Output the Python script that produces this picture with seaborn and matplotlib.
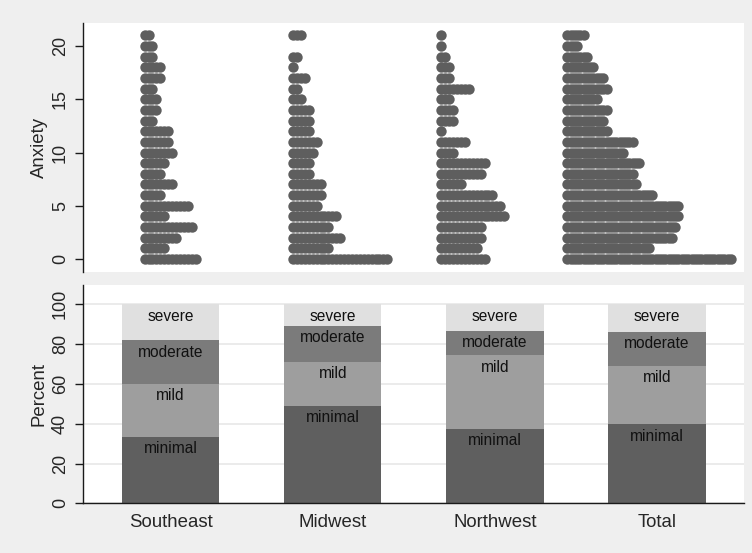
import numpy as np
import pandas as pd
import matplotlib
matplotlib.use("Agg")
import matplotlib.pyplot as plt
import seaborn as sns

# ---- data -------------------------------------------------------------
regions = ["Southeast", "Midwest", "Northwest", "Total"]
scores = list(range(22))  # anxiety score 0..21

# number of respondents at each anxiety score (index = score)
southeast = [14, 6, 9, 13, 6, 12, 5, 8, 5, 6, 8, 7, 7, 3, 4, 4, 3, 5, 5, 3, 3, 2]
midwest = [25, 10, 13, 10, 12, 7, 8, 8, 5, 5, 6, 7, 5, 5, 5, 3, 2, 4, 1, 2, 0, 3]
northwest = [12, 10, 11, 11, 17, 16, 14, 6, 11, 12, 4, 7, 1, 4, 4, 3, 8, 3, 3, 2, 1, 1]

# severity category shares (percent) per region
levels = ["minimal", "mild", "moderate", "severe"]
pct_minimal = [33.3, 48.9, 37.4, 39.7]
pct_mild = [26.9, 22.1, 37.0, 29.3]
pct_moderate = [21.8, 18.1, 12.4, 17.1]
pct_severe = [18.0, 10.9, 13.2, 13.9]

# ---- styling ----------------------------------------------------------
sns.set_theme(style="white")
plt.rcParams["font.family"] = ["Liberation Sans", "DejaVu Sans"]

BG = "#efefef"
DOT = "#5e5e5e"
seg_colors = {"minimal": "#5f5f5f", "mild": "#9e9e9e",
              "moderate": "#7b7b7b", "severe": "#e0e0e0"}

fig = plt.figure(figsize=(7.52, 5.53), dpi=100, facecolor=BG)
W, H = 752, 553
ax1 = fig.add_axes([83 / W, 1 - 272 / H, 661 / W, 249.3 / H])
ax2 = fig.add_axes([83 / W, 1 - 503.3 / H, 661 / W, 218.3 / H])

# ---- top: dot plot ------------------------------------------------------
total = [a + b + c for a, b, c in zip(southeast, midwest, northwest)]
counts = {"Southeast": southeast, "Midwest": midwest,
          "Northwest": northwest, "Total": total}
# column start and horizontal dot step (axis units = pixels from left spine)
col_start = {"Southeast": 61.6, "Midwest": 210.0, "Northwest": 358.3, "Total": 484.3}
col_step = {"Southeast": 3.93, "Midwest": 3.93, "Northwest": 3.93, "Total": 3.27}

rows = []
for reg in regions:
    for s, n in zip(scores, counts[reg]):
        for k in range(n):
            rows.append({"region": reg, "x": col_start[reg] + k * col_step[reg], "anxiety": s})
dots = pd.DataFrame(rows)

sns.scatterplot(data=dots, x="x", y="anxiety", color=DOT, s=56, linewidth=0,
                ax=ax1, legend=False)
ax1.set_xlim(0, 661)
ax1.set_ylim(-1.22, 22.19)
ax1.set_yticks([0, 5, 10, 15, 20])
ax1.set_xticks([])
ax1.set_xlabel("")
ax1.set_ylabel("Anxiety", fontsize=13.4, labelpad=3)
for sp in ["top", "right", "bottom"]:
    ax1.spines[sp].set_visible(False)

# ---- bottom: stacked percentage bars ---------------------------------------
shares = {"minimal": pct_minimal, "mild": pct_mild,
          "moderate": pct_moderate, "severe": pct_severe}
cum = {}
running = np.zeros(len(regions))
for lev in levels:
    running = running + np.array(shares[lev])
    cum[lev] = running.copy()

bars = pd.DataFrame({"region": regions})
for lev in reversed(levels):
    bars["top"] = cum[lev]
    sns.barplot(data=bars, x="region", y="top", color=seg_colors[lev],
                saturation=1, width=0.6, linewidth=0, ax=ax2, zorder=2)

for lev in levels:
    for i, top in enumerate(cum[lev]):
        ax2.text(i, top - 6.0, lev, ha="center", va="center",
                 fontsize=11.2, color="#111111", zorder=3)

ax2.set_xlim(-0.54, 3.536)
ax2.set_ylim(0, 109.7)
ax2.set_yticks([0, 20, 40, 60, 80, 100])
ax2.yaxis.grid(True, color="#e8e8e8", linewidth=1.2, zorder=0)
ax2.set_axisbelow(True)
ax2.set_xlabel("")
ax2.set_ylabel("Percent", fontsize=13.4, labelpad=3)
for sp in ["top", "right"]:
    ax2.spines[sp].set_visible(False)
ax2.tick_params(axis="x", length=0, labelsize=13.4, pad=8)

for ax in (ax1, ax2):
    ax.set_facecolor("white")
    for sp in ["left", "bottom"]:
        ax.spines[sp].set_color("#1a1a1a")
        ax.spines[sp].set_linewidth(1.0)
    ax.tick_params(axis="y", length=6, width=1.0, color="#1a1a1a",
                   labelsize=13, pad=4, left=True)
    for lab in ax.get_yticklabels():
        lab.set_rotation(90)
        lab.set_va("center")

fig.savefig("out.png", dpi=100, facecolor=BG)
